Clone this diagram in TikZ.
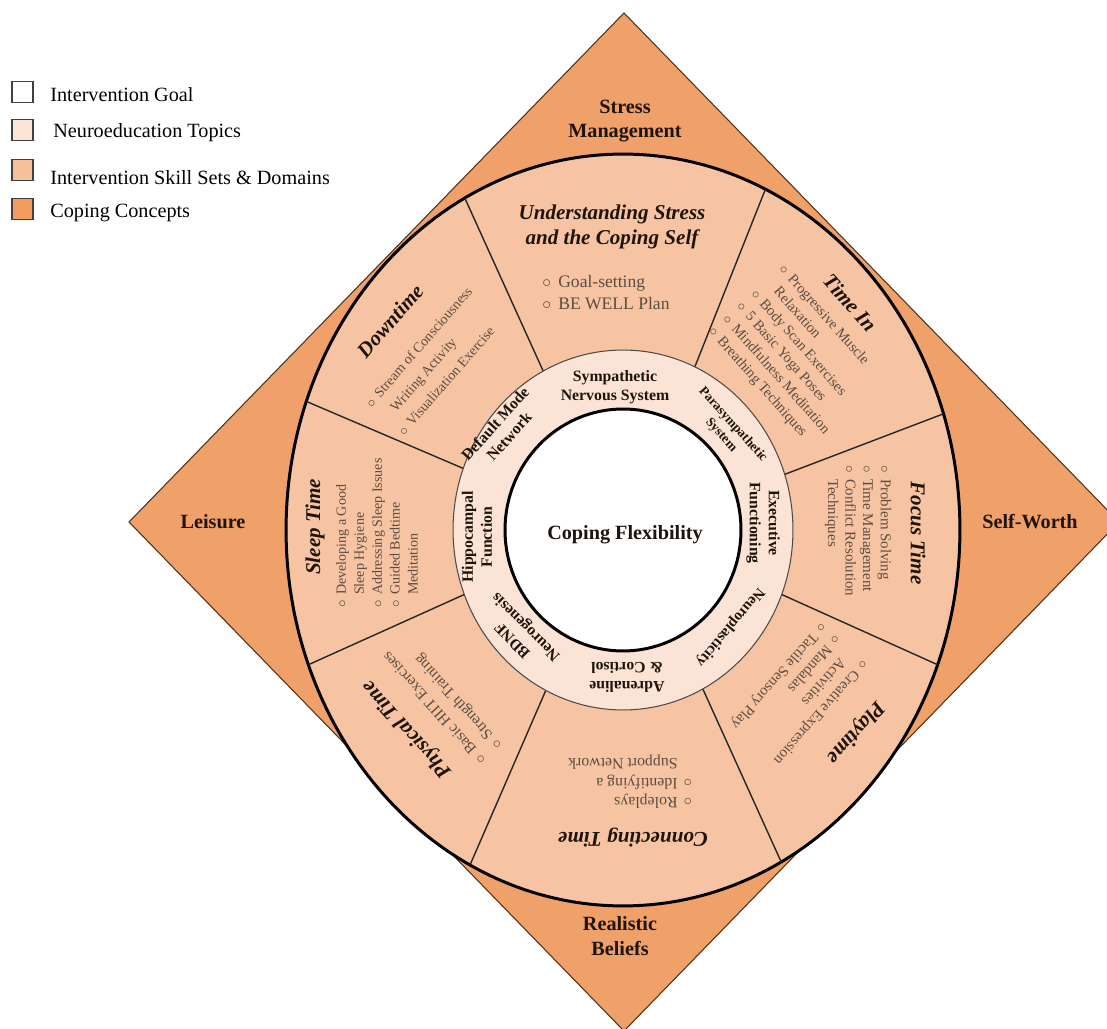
\documentclass[tikz,border=0pt]{standalone}
\usepackage{fontspec}
\setmainfont{Liberation Serif}
\usepackage{xcolor}
\usepackage{tikz}

\definecolor{concept}{RGB}{240,160,105}
\definecolor{skill}{RGB}{246,196,162}
\definecolor{neuro}{RGB}{251,227,213}
\definecolor{inktitle}{RGB}{30,20,12}
\definecolor{inkitem}{RGB}{92,76,64}
\newcommand{\bi}{\makebox[0.9em][l]{$\circ$}}
\newcommand{\bc}{\hspace*{0.9em}}

\tikzset{
  ttl/.style={font=\fontsize{12}{14}\selectfont\bfseries\itshape, text=inktitle, align=center, inner sep=0pt},
  itm/.style={font=\fontsize{8.5}{10.5}\selectfont, text=inkitem, align=left, inner sep=0pt},
  neu/.style={font=\fontsize{9}{10.8}\selectfont\bfseries, text=inktitle, align=center, inner sep=0pt},
  cpt/.style={font=\fontsize{11.5}{14}\selectfont\bfseries, text=inktitle, align=center, inner sep=0pt},
  legbox/.style={draw=black!75, line width=0.6pt, minimum size=0.42cm, inner sep=0pt},
  legtxt/.style={font=\fontsize{11.5}{13}\selectfont, anchor=west, inner sep=0pt},
  spoke/.style={draw=black!85, line width=0.8pt}
}

\begin{document}
\begin{tikzpicture}[x=0.02cm, y=0.02cm]
\useasboundingbox (0,0) rectangle (1107,1029);
\clip (0,0) rectangle (1107,1029);
\coordinate (c) at (623,499);

\draw[fill=concept, draw=black!60!brown, line width=0.6pt] (624,1016) -- (1119,507) -- (624,-2) -- (129,507) -- cycle;
\draw[fill=skill, line width=1.7pt] (c) ellipse [x radius=6.74cm, y radius=7.52cm];
\foreach \a in {18,65,118,160,201,243,298,339}
  \draw[spoke] ([shift={(c)}]\a:3.4cm and 3.6cm) -- ([shift={(c)}]\a:6.74cm and 7.52cm);
\draw[fill=neuro, draw=black!70, line width=0.6pt] (c) ellipse [x radius=3.4cm, y radius=3.6cm];
\draw[fill=white, line width=1.7pt] (c) ellipse [x radius=2.36cm, y radius=2.42cm];

\node[font=\fontsize{11.5}{14}\selectfont\bfseries, text=inktitle] (goal) at (625,494) {Coping Flexibility};

\node[cpt] (stress) at (625,908) {Stress\\Management};
\node[cpt] (leisure) at (213,507) {Leisure};
\node[cpt] (worth) at (1030,507) {Self-Worth};
\node[cpt] (beliefs) at (620,93) {Realistic\\Beliefs};

\node[neu] (symp) at (615,642) {Sympathetic\\Nervous System};
\node[neu, font=\fontsize{7.5}{9}\selectfont\bfseries, rotate=-48] (para) at (727,599) {Parasympathetic\\System};
\node[neu, rotate=-90] (exec) at (763,506) {Executive\\Functioning};
\node[neu, font=\fontsize{8.5}{10}\selectfont\bfseries, rotate=-130] (plast) at (730,402) {Neuroplasticity};
\node[neu, rotate=180] (adren) at (627,352) {Adrenaline\\\& Cortisol};
\node[neu, rotate=135] (bdnf) at (520,396) {BDNF\\Neurogenesis};
\node[neu, rotate=90] (hippo) at (477,492) {Hippocampal\\Function};
\node[neu, rotate=48] (dmn) at (502,599) {Default Mode\\Network};

\node[ttl] (under) at (612,802) {Understanding Stress\\and the Coping Self};
\node[itm, font=\fontsize{10}{12.5}\selectfont] (underlist) at (606,736) {\bi Goal-setting\\\bi BE WELL Plan};

\node[ttl, rotate=-48.5] (timein) at (850,726) {Time In};
\node[itm, rotate=-48.5, font=\fontsize{8.3}{10.7}\selectfont] (timeinlist) at (797,673) {\bi Progressive Muscle\\\bc Relaxation\\\bi Body Scan Exercises\\\bi 5 Basic Yoga Poses\\\bi Mindfulness Meditation\\\bi Breathing Techniques};

\node[ttl, rotate=-90] (focus) at (918,496) {Focus Time};
\node[itm, rotate=-90, font=\fontsize{8.5}{10}\selectfont] (focuslist) at (858,498) {\bi Problem Solving\\\bi Time Management\\\bi Conflict Resolution\\\bc Techniques};

\node[ttl, rotate=-131.5] (play) at (855,297) {Playtime};
\node[itm, rotate=-131.5] (playlist) at (799,335) {\bi Creative Expression\\\bc Activities\\\bi Mandalas\\\bi Tactile Sensory Play};

\node[ttl, rotate=180] (connect) at (633,191) {Connecting Time};
\node[itm, rotate=180, font=\fontsize{9}{11}\selectfont] (connectlist) at (630,247) {\bi Roleplays\\\bi Identifying a\\\bc Support Network};

\node[ttl, rotate=132] (phys) at (407,300) {Physical Time};
\node[itm, rotate=132, font=\fontsize{8.8}{12.4}\selectfont] (physlist) at (443,329) {\bi Basic HIIT Exercises\\\bi Strength Training};

\node[ttl, rotate=90] (sleep) at (315,502) {Sleep Time};
\node[itm, rotate=90, font=\fontsize{8}{10.2}\selectfont] (sleeplist) at (377,496) {\bi Developing a Good\\\bc Sleep Hygiene\\\bi Addressing Sleep Issues\\\bi Guided Bedtime\\\bc Meditation};

\node[ttl, rotate=49] (down) at (390,708) {Downtime};
\node[itm, rotate=49, font=\fontsize{8}{12.2}\selectfont] (downlist) at (435,668) {\bi Stream of Consciousness\\\bc Writing Activity\\\bi Visualization Exercise};

\node[legbox, fill=white] (lgoal) at (22.5,937) {};
\node[legbox, fill=neuro] (lneuro) at (22.5,899) {};
\node[legbox, fill=skill!95!orange] (lskill) at (22.5,859) {};
\node[legbox, fill=concept!90!orange] (lconcept) at (22.5,820) {};
\node[legtxt] (tgoal) at (50,934) {Intervention Goal};
\node[legtxt] (tneuro) at (53,896) {Neuroeducation Topics};
\node[legtxt] (tskill) at (50,851) {Intervention Skill Sets \& Domains};
\node[legtxt] (tconcept) at (50,816) {Coping Concepts};
\end{tikzpicture}
\end{document}
